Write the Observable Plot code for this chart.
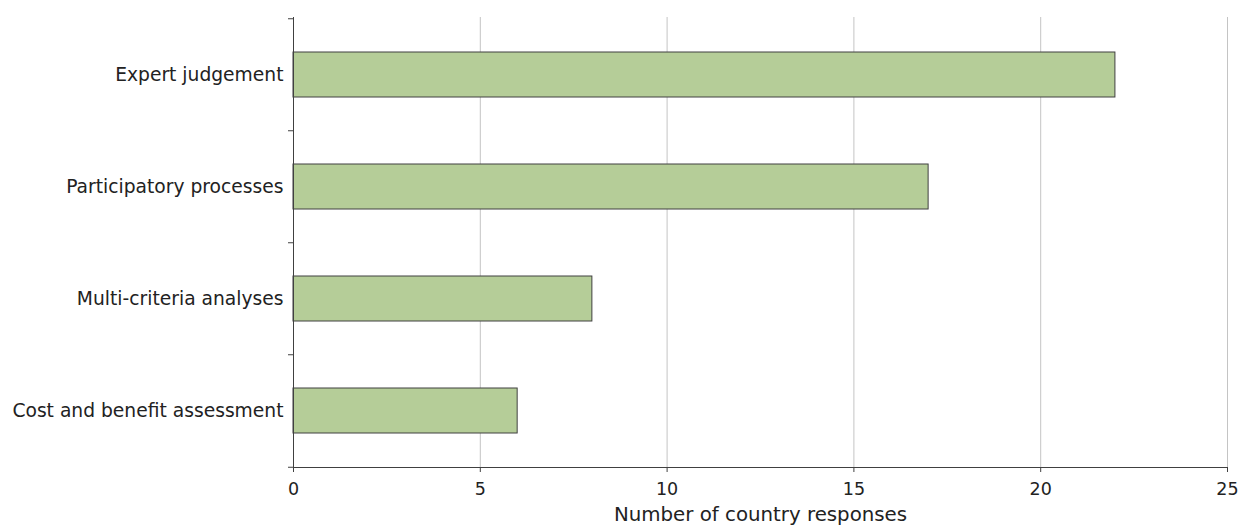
<!DOCTYPE html>
<html>
<head>
<meta charset="utf-8">
<script src="https://cdn.jsdelivr.net/npm/d3@7"></script>
<script src="https://cdn.jsdelivr.net/npm/@observablehq/plot@0.6"></script>
<style>
  html, body { margin: 0; padding: 0; background: #fff; }
  #chart svg { display: block; }
</style>
</head>
<body>
<div id="chart"></div>
<script>
const categories = ["Expert judgement", "Participatory processes", "Multi-criteria analyses", "Cost and benefit assessment"];
const responses = [22, 17, 8, 6];
const xTicks = [0, 5, 10, 15, 20, 25];
const xLabel = "Number of country responses";

const data = categories.map((c, i) => ({category: c, value: responses[i]}));
const halfStep = 56.25;

const chart = Plot.plot({
  width: 1241,
  height: 527,
  marginTop: 17,
  marginBottom: 60,
  marginLeft: 293,
  marginRight: 14,
  style: {fontFamily: "'DejaVu Sans', Verdana, sans-serif", fontSize: "15px", color: "#222", background: "#fff"},
  x: {domain: [0, 25]},
  y: {domain: categories, paddingInner: 0.6, paddingOuter: 0.3, align: 0.5},
  marks: [
    Plot.gridX(xTicks.filter(d => d > 0), {stroke: "#c4c4c4", strokeOpacity: 1, strokeWidth: 1}),
    Plot.barX(data, {y: "category", x1: 0, x2: "value", fill: "#b5cd98", stroke: "#404040", strokeWidth: 1}),
    Plot.ruleX([0], {stroke: "#404040", strokeWidth: 1}),
    Plot.frame({anchor: "bottom", stroke: "#404040", strokeWidth: 1}),
    Plot.axisX(xTicks, {tickSize: 5, tickPadding: 10, fontSize: 17.5, stroke: "#404040", label: null}),
    Plot.axisY({tickSize: 0, tickPadding: 10, fontSize: 18.7, label: null}),
    Plot.axisY({tickSize: 5, dy: -halfStep, tickFormat: () => "", stroke: "#404040", label: null}),
    Plot.axisY([categories[categories.length - 1]], {tickSize: 5, dy: halfStep, tickFormat: () => "", stroke: "#404040", label: null}),
    Plot.text([xLabel], {frameAnchor: "bottom", lineAnchor: "middle", dy: 47, fontSize: 19.8, fill: "#222"})
  ]
});
document.getElementById("chart").appendChild(chart);
</script>
</body>
</html>
